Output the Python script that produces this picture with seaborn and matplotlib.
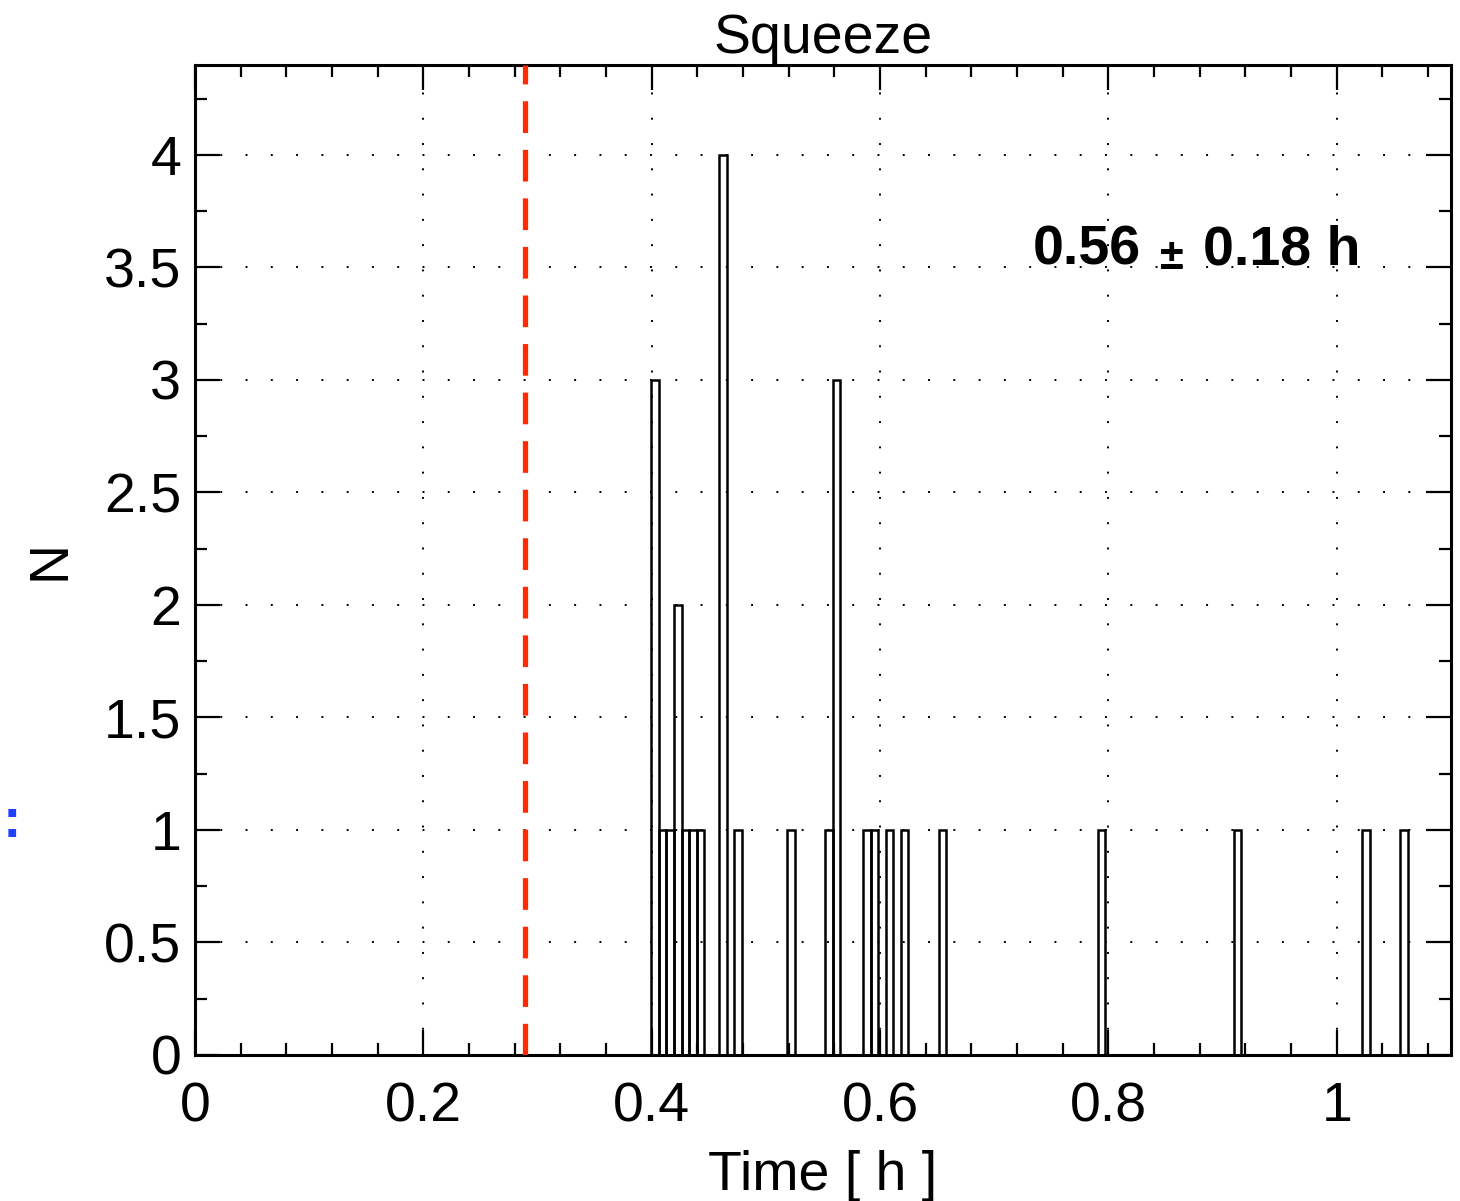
import numpy as np
import pandas as pd
import matplotlib
matplotlib.use("Agg")
import matplotlib.pyplot as plt
import seaborn as sns
from matplotlib.ticker import MultipleLocator, FuncFormatter

# ---- data ----
bin_centers = [0.4029, 0.4096, 0.4162, 0.4228, 0.4294, 0.4361, 0.4427, 0.4626,
               0.4758, 0.5222, 0.5553, 0.5620, 0.5885, 0.5951, 0.6083, 0.6216,
               0.6547, 0.7939, 0.9131, 1.0258, 1.0589]
counts = [3, 1, 1, 2, 1, 1, 1, 4,
          1, 1, 1, 3, 1, 1, 1, 1,
          1, 1, 1, 1, 1]
bin_width = 0.006626
threshold = 0.289
title = "Squeeze"
xlabel = "Time [ h ]"
ylabel = "N"
annot_mean = "0.56"
annot_pm = "±"
annot_sd = "0.18 h"

df = pd.DataFrame({"t": bin_centers, "n": counts})

sns.set_theme(style="ticks")
plt.rcParams['font.family'] = ['Liberation Sans', 'DejaVu Sans']
plt.rcParams['text.color'] = 'black'
plt.rcParams['axes.labelcolor'] = 'black'

fig = plt.figure(figsize=(14.6, 12.01), dpi=100)
ax = fig.add_axes([0.1336, 0.1216, 0.9938 - 0.1336, 0.9459 - 0.1216])

start = min(bin_centers) - bin_width / 2
sns.histplot(data=df, x="t", weights="n", binwidth=bin_width,
             binrange=(start, max(bin_centers) + bin_width / 2),
             fill=False, element="bars", color="black", linewidth=1.8, ax=ax)

ax.axvline(threshold, color="#FF2A00", lw=3.8, dashes=(6, 3.2), zorder=3)

ax.set_xlim(0, 1.1)
ax.set_ylim(0, 4.4)
ax.xaxis.set_major_locator(MultipleLocator(0.2))
ax.xaxis.set_minor_locator(MultipleLocator(0.04))
ax.yaxis.set_major_locator(MultipleLocator(0.5))
ax.yaxis.set_minor_locator(MultipleLocator(0.25))
fmt = FuncFormatter(lambda v, p: ("%g" % round(v, 3)))
ax.xaxis.set_major_formatter(fmt)
ax.yaxis.set_major_formatter(fmt)

ax.grid(True, which="major", color="black", linestyle=(0, (1, 12)), linewidth=1.4)
ax.set_axisbelow(True)

ax.tick_params(which="both", direction="in", top=True, right=True, width=1.6,
               color="black", labelsize=40, labelcolor="black")
ax.tick_params(which="major", length=18)
ax.tick_params(which="minor", length=8.5)
ax.tick_params(axis="x", which="major", pad=19)
ax.tick_params(axis="y", which="major", pad=10)
for s in ax.spines.values():
    s.set_linewidth(2.2)
    s.set_color("black")

ax.set_title(title, fontsize=40, pad=4, color="black")
ax.set_xlabel(xlabel, fontsize=40, labelpad=12, color="black")
ax.set_ylabel(ylabel, fontsize=40, labelpad=20, color="black")

ax.text(0.734, 3.575, annot_mean, fontsize=40, fontweight="bold",
        ha="left", va="center", color="black")
ax.text(0.8555, 3.54, annot_pm, fontsize=31, fontweight="bold",
        ha="center", va="center", color="black")
ax.text(0.8827, 3.575, annot_sd, fontsize=40, fontweight="bold",
        ha="left", va="center", color="black")

fig.text(0.008, 0.315, ":", color="#2040FF", fontsize=40, fontweight="bold",
         ha="center", va="center")

fig.savefig("out.png", dpi=100, facecolor="white")
